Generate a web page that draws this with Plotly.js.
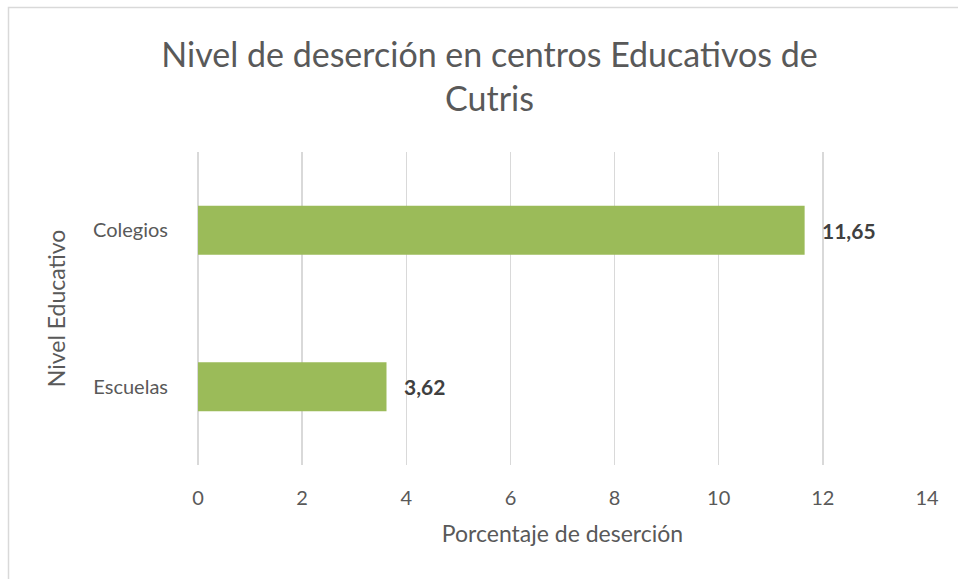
<!DOCTYPE html>
<html>
<head>
<meta charset="utf-8">
<script src="https://cdn.plot.ly/plotly-3.0.1.min.js"></script>
<style>html,body{margin:0;padding:0;background:#fff;}#chart{width:958px;height:579px;}</style>
</head>
<body>
<div id="chart"></div>
<script>
const categories = ["Escuelas", "Colegios"];
const values = [3.62, 11.65];
const labels = ["3,62", "11,65"];
const xTicks = [0, 2, 4, 6, 8, 10, 12, 14];

const FONT = "Lato, Open Sans, sans-serif";
const trace = {
  type: "bar",
  orientation: "h",
  y: categories,
  x: values,
  marker: {color: "#9BBB59"},
  hoverinfo: "none"
};

const annotations = categories.map((c, i) => ({
  x: values[i], y: c, xref: "x", yref: "y",
  text: "<b>" + labels[i] + "</b>",
  showarrow: false, xanchor: "left", yanchor: "middle", xshift: 15,
  font: {family: FONT, size: 21, color: "#404040"}
}));

const layout = {
  width: 958, height: 579,
  margin: {l: 198, r: 31, t: 152, b: 114},
  paper_bgcolor: "#fff", plot_bgcolor: "#fff",
  showlegend: false,
  bargap: 0.687,
  font: {family: FONT, color: "#595959"},
  title: {
    text: "Nivel de deserción en centros Educativos de<br>Cutris",
    font: {family: FONT, size: 34, color: "#595959"},
    x: 0.511, xanchor: "center", y: 0.885, yanchor: "middle"
  },
  xaxis: {
    range: [0, 14], tickvals: xTicks, ticktext: xTicks.map(String),
    showgrid: true, gridcolor: "#D9D9D9", gridwidth: 1.5,
    zeroline: true, zerolinecolor: "#D9D9D9", zerolinewidth: 1.5,
    showline: false, ticks: "",
    tickfont: {family: FONT, size: 20, color: "#595959"},
    ticklabelstandoff: 19,
    automargin: true,
    title: {text: "Porcentaje de deserción", font: {family: FONT, size: 23, color: "#595959"}, standoff: 17}
  },
  yaxis: {
    showgrid: false, zeroline: false, showline: false, ticks: "",
    tickfont: {family: FONT, size: 20, color: "#595959"},
    ticklabelstandoff: 29,
    automargin: true,
    title: {text: "Nivel Educativo", font: {family: FONT, size: 23, color: "#595959"}, standoff: 20}
  },
  annotations: annotations,
  shapes: [{
    type: "rect", xref: "paper", yref: "paper",
    x0: (8.5 - 198) / 729, x1: 1.2, y0: -0.5, y1: (465 - 7.5) / 313,
    line: {color: "#D9D9D9", width: 1.5}, fillcolor: "rgba(0,0,0,0)", layer: "below"
  }]
};

Plotly.newPlot("chart", [trace], layout, {displayModeBar: false, staticPlot: true});
</script>
</body>
</html>
